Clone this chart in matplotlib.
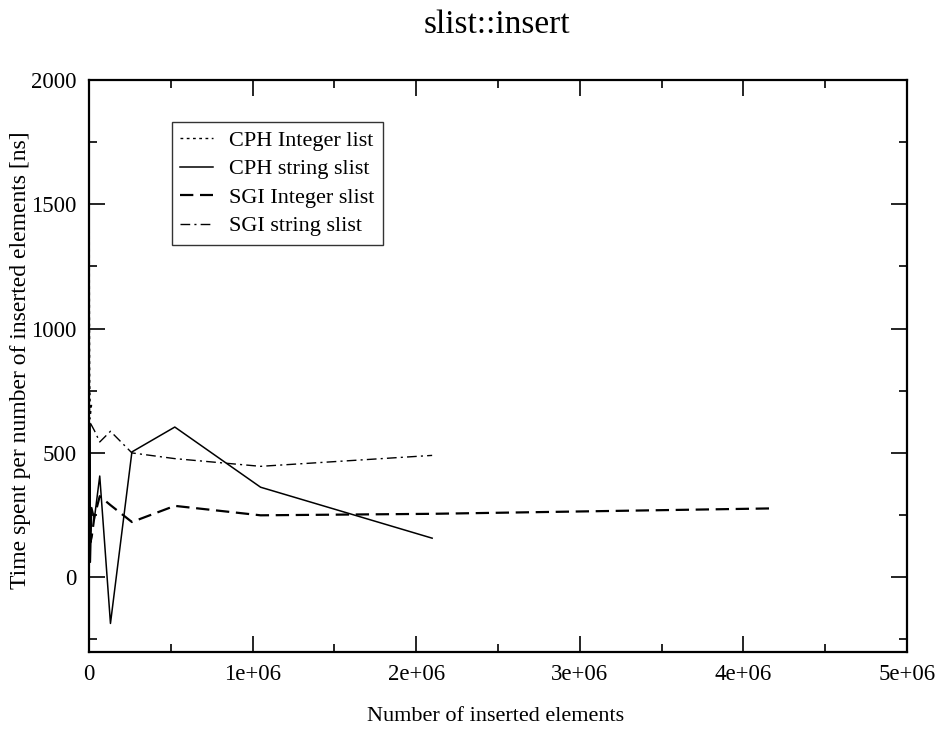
import matplotlib
matplotlib.use("Agg")
import matplotlib.pyplot as plt
from matplotlib.ticker import MultipleLocator, FuncFormatter

plt.rcParams['font.family'] = ['Liberation Serif', 'DejaVu Serif']

# Data (x = number of inserted elements, y = ns per inserted element)
cph_int_x = [1024, 2048, 4096, 8192, 16384]
cph_int_y = [1950, 1200, 800, 650, 700]

cph_str_x = [1024, 2048, 4096, 8192, 16384, 32768, 65536, 131072,
             262144, 524288, 1048576, 2097152]
cph_str_y = [750, 300, 620, 60, 280, 236, 407, -186, 504, 604, 362, 157]

sgi_int_x = [1024, 2048, 4096, 8192, 16384, 32768, 65536, 131072,
             262144, 524288, 1048576, 2097152, 4194304]
sgi_int_y = [320, 160, 360, 140, 162, 243, 326, 290, 222, 287, 249, 255, 277]

sgi_str_x = [1024, 2048, 4096, 8192, 16384, 32768, 65536, 131072,
             262144, 524288, 1048576, 2097152]
sgi_str_y = [780, 700, 660, 620, 610, 590, 544, 587, 500, 477, 446, 490]

title = "slist::insert"
xlabel = "Number of inserted elements"
ylabel = "Time spent per number of inserted elements [ns]"

fig = plt.figure(figsize=(9.4, 7.34), dpi=100)
ax = fig.add_axes([0.0947, 0.112, 0.8703, 0.779])

ax.plot(cph_int_x, cph_int_y, color='black', lw=1.0, ls=(0, (2, 2.5)), label='CPH Integer list')
ax.plot(cph_str_x, cph_str_y, color='black', lw=1.1, ls='-', label='CPH string slist')
ax.plot(sgi_int_x, sgi_int_y, color='black', lw=1.6, ls=(0, (6, 3)), label='SGI Integer slist')
ax.plot(sgi_str_x, sgi_str_y, color='black', lw=1.0, ls=(0, (7, 3, 1.5, 3)), label='SGI string slist')

ax.set_xlim(0, 5e6)
ax.set_ylim(-300, 2000)
ax.xaxis.set_major_locator(MultipleLocator(1e6))
ax.xaxis.set_minor_locator(MultipleLocator(5e5))
ax.yaxis.set_major_locator(MultipleLocator(500))
ax.yaxis.set_minor_locator(MultipleLocator(250))

def xfmt(v, pos):
    if v == 0:
        return "0"
    return "%de+06" % round(v / 1e6)
ax.xaxis.set_major_formatter(FuncFormatter(xfmt))
ax.yaxis.set_major_formatter(FuncFormatter(lambda v, p: "%d" % v))

ax.tick_params(which='both', direction='in', top=True, right=True,
               labelsize=16.5, width=1.2, color='black')
ax.tick_params(which='major', length=11.5, pad=9)
ax.tick_params(which='minor', length=6)
for s in ax.spines.values():
    s.set_linewidth(1.6)

fig.text(0.529, 1 - 33 / 734, title, fontsize=24, ha='center', va='baseline')
ax.set_xlabel(xlabel, fontsize=16)
ax.xaxis.set_label_coords(0.497, (652 - 717) / 572)
ax.xaxis.label.set_va('center')
ax.set_ylabel(ylabel, fontsize=17)
ax.yaxis.set_label_coords((20 - 89) / 818, (652 - 360) / 572)
ax.yaxis.label.set_va('center')

leg = ax.legend(loc='upper left', bbox_to_anchor=(0.101, 0.927), borderaxespad=0,
                fontsize=16, frameon=True, fancybox=False, handlelength=1.5,
                handletextpad=0.7, labelspacing=0.36, borderpad=0.38)
leg.get_frame().set_edgecolor('black')
leg.get_frame().set_linewidth(1.0)

fig.savefig("out.png", dpi=100)
